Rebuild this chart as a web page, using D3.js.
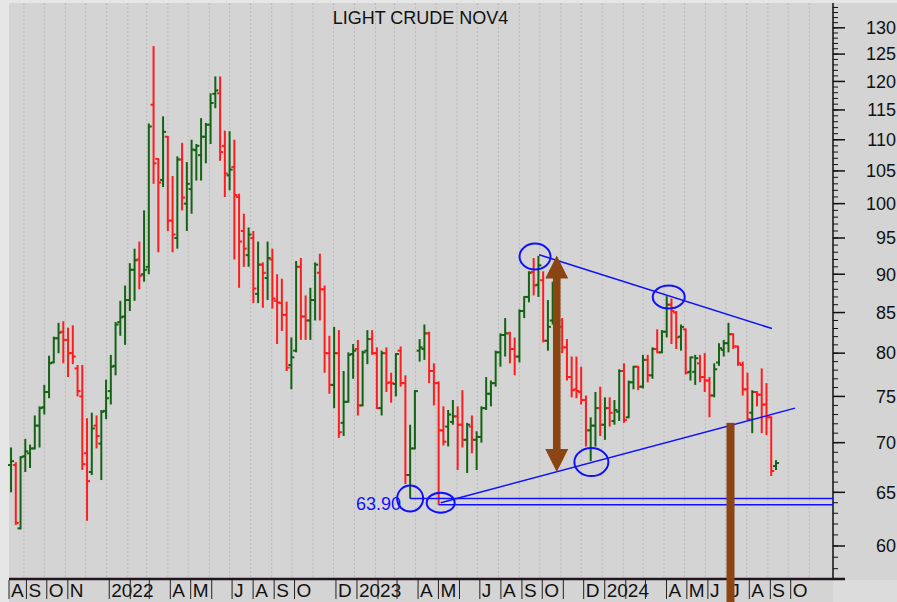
<!DOCTYPE html>
<html>
<head>
<meta charset="utf-8">
<script src="https://cdn.jsdelivr.net/npm/d3@7"></script>
<style>
  html, body { margin: 0; padding: 0; background: #e6e6e6; }
  svg { display: block; font-family: Arial, "Liberation Sans", sans-serif; }
</style>
</head>
<body>
<div id="vis"></div>
<script>
// weekly bars, first bar = week ending Fri 13 Aug 2021
var firstWeek = '2021-08-13';

var opens = [
  67.7, 67.7, 61.6, 68.6, 68.9, 69.4, 71.8, 73.8, 75.5, 78.9,
  81.8, 82.6, 81.6, 80.0, 78.2, 75.0, 68.9, 67.0, 71.8, 69.9,
  73.4, 75.6, 78.5, 83.8, 84.5, 86.6, 90.6, 92.0, 90.0, 91.0,
  115.9, 106.9, 103.6, 110.5, 97.5, 95.0, 106.8, 100.0, 102.2, 108.3,
  107.5, 110.5, 112.5, 117.8, 117.9, 109.0, 104.3, 105.6, 101.0, 96.0,
  92.6, 95.0, 87.4, 91.3, 89.5, 92.0, 86.5, 86.2, 84.7, 78.6,
  80.3, 91.0, 84.5, 84.0, 86.6, 90.2, 88.0, 80.0, 76.3, 80.0,
  72.1, 74.4, 79.9, 80.5, 74.0, 80.3, 81.7, 80.0, 73.7, 80.0,
  76.6, 76.4, 80.3, 76.5, 66.7, 69.4, 80.3, 80.5, 82.4, 77.9,
  76.5, 71.3, 71.7, 72.2, 72.8, 71.9, 70.3, 71.7, 70.3, 70.6,
  73.7, 75.3, 76.5, 80.1, 82.2, 82.4, 80.5, 79.6, 85.2, 87.0,
  90.3, 88.6, 89.2, 81.5, 84.0, 87.0, 83.2, 80.7, 77.2, 75.8,
  75.5, 74.6, 71.3, 71.8, 73.7, 71.9, 73.7, 72.3, 73.3, 77.9,
  72.7, 76.6, 78.4, 76.1, 79.2, 77.4, 80.5, 80.1, 82.6, 86.0,
  85.0, 82.0, 82.9, 77.8, 77.8, 78.8, 77.2, 76.8, 75.1, 78.9,
  80.4, 81.2, 82.3, 80.8, 78.6, 75.8, 73.2, 75.5, 75.2, 74.1,
  72.7, 67.6
];
var highs = [
  69.5, 68.0, 68.6, 70.4, 69.8, 72.9, 73.9, 76.3, 79.7, 82.0,
  83.7, 83.9, 83.1, 83.4, 78.6, 78.6, 72.6, 73.2, 72.9, 73.5,
  76.9, 79.8, 83.8, 86.5, 88.5, 91.5, 93.5, 94.5, 99.0, 112.7,
  126.5, 107.0, 113.9, 110.6, 104.2, 107.3, 109.5, 106.4, 110.0, 109.3,
  113.6, 112.8, 117.9, 120.9, 120.9, 111.5, 111.4, 110.0, 101.5, 98.5,
  96.5, 96.0, 94.5, 91.6, 94.5, 93.5, 90.0, 89.4, 86.4, 81.9,
  91.8, 92.2, 87.2, 88.2, 91.6, 92.8, 88.5, 82.1, 83.2, 82.8,
  77.9, 80.1, 81.1, 81.6, 80.3, 82.8, 82.8, 80.7, 80.3, 80.7,
  77.7, 80.0, 80.8, 77.4, 71.9, 75.7, 81.7, 83.5, 82.6, 78.8,
  76.7, 73.9, 73.5, 74.6, 73.9, 75.7, 72.1, 72.9, 71.2, 73.9,
  77.2, 76.8, 80.3, 82.4, 84.3, 82.6, 81.9, 85.4, 87.1, 90.4,
  92.2, 92.5, 90.4, 86.6, 89.0, 88.0, 84.3, 81.7, 79.6, 79.6,
  78.4, 75.1, 72.7, 75.5, 76.1, 74.9, 74.9, 74.6, 78.1, 78.8,
  76.8, 78.5, 78.5, 79.8, 79.8, 80.7, 82.9, 82.8, 87.1, 86.8,
  85.2, 83.5, 83.0, 79.6, 79.8, 79.8, 80.0, 77.2, 78.8, 81.2,
  81.6, 83.7, 82.4, 80.9, 79.0, 77.7, 75.7, 75.6, 78.2, 76.5,
  72.8, 68.2
];
var lows = [
  65.0, 61.9, 61.5, 67.0, 67.4, 69.3, 69.5, 73.0, 74.8, 78.8,
  80.0, 78.8, 77.2, 78.7, 75.0, 67.2, 62.3, 66.7, 69.4, 66.2,
  72.5, 74.1, 77.4, 82.1, 81.0, 85.2, 86.5, 88.0, 89.0, 90.0,
  103.0, 93.0, 102.5, 96.0, 93.0, 93.5, 99.0, 96.0, 98.5, 103.5,
  103.5, 106.2, 109.3, 115.3, 106.6, 101.0, 102.0, 92.0, 88.2, 91.0,
  91.0, 86.2, 86.2, 85.6, 86.6, 85.5, 81.1, 82.7, 77.9, 75.8,
  80.1, 81.6, 81.6, 81.6, 84.0, 84.0, 77.7, 75.3, 73.7, 70.5,
  70.7, 74.3, 77.0, 72.9, 73.9, 78.7, 79.8, 73.6, 72.9, 75.5,
  74.3, 75.0, 76.1, 65.8, 64.4, 69.3, 79.0, 79.2, 76.5, 74.0,
  63.8, 69.7, 69.6, 71.9, 67.2, 69.5, 66.9, 68.9, 67.2, 70.0,
  73.5, 73.9, 76.1, 78.4, 79.6, 78.8, 77.4, 78.9, 84.3, 86.3,
  87.2, 87.0, 81.3, 80.3, 83.5, 82.5, 80.0, 76.8, 74.9, 74.8,
  74.1, 69.6, 68.1, 69.6, 70.7, 70.3, 71.7, 71.9, 72.3, 72.1,
  72.6, 75.8, 75.7, 75.9, 76.6, 77.0, 80.0, 80.0, 81.9, 81.1,
  80.5, 80.3, 77.5, 76.8, 76.3, 76.6, 75.5, 72.7, 74.9, 78.5,
  79.6, 80.1, 80.5, 78.5, 75.1, 72.4, 71.0, 73.9, 71.0, 70.8,
  66.6, 67.2
];
var closes = [
  68.1, 62.1, 68.5, 69.1, 69.4, 71.8, 73.7, 75.5, 78.8, 81.8,
  82.5, 81.6, 80.0, 79.6, 75.6, 67.8, 66.1, 71.5, 70.7, 73.3,
  74.8, 78.4, 83.5, 84.4, 86.6, 90.6, 91.9, 89.8, 90.6, 112.2,
  106.2, 103.2, 111.3, 97.5, 95.5, 106.8, 100.9, 103.0, 108.4, 109.0,
  110.5, 112.5, 116.2, 118.4, 108.0, 104.6, 105.2, 101.3, 94.5, 93.5,
  95.5, 88.1, 91.3, 90.2, 92.2, 86.8, 86.3, 84.7, 78.3, 79.5,
  91.0, 84.5, 84.0, 86.6, 91.3, 88.0, 80.0, 76.3, 80.0, 71.1,
  74.4, 79.8, 80.3, 74.0, 80.1, 81.7, 80.0, 73.7, 80.0, 76.5,
  76.5, 79.9, 76.5, 66.7, 69.4, 75.6, 80.7, 82.4, 77.9, 76.5,
  71.3, 70.1, 73.0, 72.8, 71.9, 70.3, 71.9, 70.3, 70.6, 73.7,
  75.3, 76.5, 80.1, 82.2, 82.4, 80.5, 79.6, 85.2, 87.0, 90.2,
  88.5, 91.2, 81.5, 83.2, 87.5, 84.0, 80.7, 77.2, 75.7, 75.6,
  74.6, 71.3, 71.8, 73.7, 71.9, 73.7, 73.2, 73.5, 77.9, 72.4,
  76.6, 78.4, 76.1, 79.2, 77.4, 80.5, 80.1, 82.6, 86.0, 85.2,
  81.9, 83.2, 77.7, 79.5, 79.4, 77.2, 76.8, 75.1, 78.1, 80.6,
  81.2, 82.3, 80.8, 78.8, 75.8, 72.5, 75.5, 75.2, 74.1, 72.7,
  67.1, 67.9
];

// x axis months ('' = divider only)
var monthTicks = [
  '2021-08-01', '2021-09-01', '2021-10-01', '2021-11-01',
  '2022-01-01', '2022-02-01', '2022-03-01', '2022-04-01', '2022-05-01', '2022-06-01',
  '2022-07-01', '2022-08-01', '2022-09-01', '2022-10-01', '2022-12-01',
  '2023-01-01', '2023-02-01', '2023-03-01', '2023-04-01', '2023-05-01', '2023-06-01',
  '2023-07-01', '2023-08-01', '2023-09-01', '2023-10-01', '2023-11-01', '2023-12-01',
  '2024-01-01', '2024-02-01', '2024-03-01', '2024-04-01', '2024-05-01', '2024-06-01',
  '2024-07-01', '2024-08-01', '2024-09-01', '2024-10-01'
];
var monthLabels = [
  'A', 'S', 'O', 'N',
  '2022', '', '', 'A', 'M', '',
  'J', 'A', 'S', 'O', 'D',
  '2023', '', '', 'A', 'M', '',
  'J', 'A', 'S', 'O', '', 'D',
  '2024', '', '', 'A', 'M', 'J',
  'J', 'A', 'S', 'O'
];

var priceTicks = [60, 65, 70, 75, 80, 85, 90, 95, 100, 105, 110, 115, 120, 125, 130];

// drawn annotations, in (date, price)
var supportLevels = [['2023-03-24', 64.4], ['2023-05-05', 63.8]];
var trendLines = [
  [['2023-09-30', 92.65], ['2024-09-07', 83.0]],
  [['2023-05-08', 64.0], ['2024-10-11', 73.7]]
];
var circled = [
  ['2023-03-24', 64.4, 13, 13],
  ['2023-05-08', 64.0, 14, 10],
  ['2023-09-24', 92.4, 15.5, 13],
  ['2023-12-16', 68.0, 17, 14],
  ['2024-04-08', 87.0, 16, 11.5]
];
var lowLabel = ['2023-03-24', 63.9, '63.90'];
var rangeArrow = ['2023-10-26', 92.55, 67.0];
var targetBar = ['2024-07-08', 72.1];

var width = 897;
var height = 602;
var plotLeft = 9, plotTop = 3, plotRight = 833, plotBottom = 578;

var green = '#136313';
var red = '#ff1c1c';
var blue = '#1010ff';
var brown = '#8b4513';

var parse = d3.timeParse('%Y-%m-%d');

var x = d3.scaleTime()
  .domain([parse('2021-08-10'), parse('2024-12-06')])
  .range([plotLeft, plotRight]);

var y = d3.scaleLog()
  .domain([57.2, 134.9])
  .range([plotBottom, plotTop]);

var bars = opens.map(function (o, i) {
  return {
    date: d3.timeWeek.offset(parse(firstWeek), i),
    open: o, high: highs[i], low: lows[i], close: closes[i]
  };
});

var svg = d3.select('#vis').append('svg')
  .attr('width', width)
  .attr('height', height);

svg.append('rect')
  .attr('x', plotLeft).attr('y', plotTop)
  .attr('width', width - plotLeft).attr('height', height - plotTop)
  .attr('fill', '#d4d4d4');
svg.append('rect')
  .attr('x', plotRight).attr('y', plotBottom + 2)
  .attr('width', width - plotRight).attr('height', height - plotBottom)
  .attr('fill', '#dcdcdc');

// dotted month grid
var months = d3.timeMonth.range(parse('2021-09-01'), parse('2024-12-01'));
svg.append('g').selectAll('line')
  .data(months)
  .enter().append('line')
  .attr('x1', function (d) { return x(d); })
  .attr('x2', function (d) { return x(d); })
  .attr('y1', plotTop)
  .attr('y2', plotBottom)
  .attr('stroke', '#bababa')
  .attr('stroke-dasharray', '2,2');

svg.append('text')
  .attr('x', 420.5)
  .attr('y', 24)
  .attr('text-anchor', 'middle')
  .attr('font-size', 18)
  .attr('fill', '#111')
  .text('LIGHT CRUDE NOV4');

// OHLC bars
var bar = svg.append('g').selectAll('g')
  .data(bars)
  .enter().append('g')
  .attr('stroke', function (d) { return d.close >= d.open ? green : red; })
  .attr('stroke-width', 2);

bar.append('line')
  .attr('x1', function (d) { return x(d.date); })
  .attr('x2', function (d) { return x(d.date); })
  .attr('y1', function (d) { return y(d.high); })
  .attr('y2', function (d) { return y(d.low); });
bar.append('line')
  .attr('x1', function (d) { return x(d.date) - 3; })
  .attr('x2', function (d) { return x(d.date); })
  .attr('y1', function (d) { return y(d.open); })
  .attr('y2', function (d) { return y(d.open); });
bar.append('line')
  .attr('x1', function (d) { return x(d.date); })
  .attr('x2', function (d) { return x(d.date) + 3; })
  .attr('y1', function (d) { return y(d.close); })
  .attr('y2', function (d) { return y(d.close); });

// y axis on the right, 1 unit minor ticks
var yAxis = svg.append('g');
yAxis.append('line')
  .attr('x1', plotRight).attr('x2', plotRight)
  .attr('y1', plotTop).attr('y2', plotBottom)
  .attr('stroke', '#111').attr('stroke-width', 1.5);
yAxis.selectAll('.minor')
  .data(d3.range(58, 135))
  .enter().append('line')
  .attr('x1', plotRight).attr('x2', plotRight + 5)
  .attr('y1', function (d) { return y(d); })
  .attr('y2', function (d) { return y(d); })
  .attr('stroke', '#111');
yAxis.selectAll('.major')
  .data(priceTicks)
  .enter().append('line')
  .attr('x1', plotRight).attr('x2', plotRight + 12)
  .attr('y1', function (d) { return y(d); })
  .attr('y2', function (d) { return y(d); })
  .attr('stroke', '#111').attr('stroke-width', 1.5);
yAxis.selectAll('text')
  .data(priceTicks)
  .enter().append('text')
  .attr('x', 896)
  .attr('y', function (d) { return y(d); })
  .attr('dy', '0.35em')
  .attr('text-anchor', 'end')
  .attr('font-size', 18)
  .attr('fill', '#111')
  .text(function (d) { return d; });

// x axis band
var xAxis = svg.append('g');
xAxis.append('line')
  .attr('x1', plotLeft).attr('x2', plotRight + 12)
  .attr('y1', plotBottom + 1).attr('y2', plotBottom + 1)
  .attr('stroke', '#24141f').attr('stroke-width', 2.5);
var tick = xAxis.selectAll('g')
  .data(monthTicks.map(function (m, i) { return { date: parse(m), label: monthLabels[i] }; }))
  .enter().append('g')
  .attr('transform', function (d) {
    return 'translate(' + Math.max(plotLeft, x(d.date) + 2.5) + ',0)';
  });
tick.append('line')
  .attr('y1', plotBottom + 2).attr('y2', height - 3)
  .attr('stroke', '#222');
tick.append('text')
  .attr('x', 2)
  .attr('y', 597)
  .attr('font-size', 19)
  .attr('fill', '#111')
  .text(function (d) { return d.label; });

// annotations
var notes = svg.append('g')
  .attr('fill', 'none')
  .attr('stroke', blue);

notes.selectAll('.level')
  .data(supportLevels)
  .enter().append('line')
  .attr('x1', function (d) { return x(parse(d[0])); })
  .attr('x2', plotRight)
  .attr('y1', function (d) { return y(d[1]); })
  .attr('y2', function (d) { return y(d[1]); })
  .attr('stroke-width', 1.5);

notes.selectAll('.trend')
  .data(trendLines)
  .enter().append('line')
  .attr('x1', function (d) { return x(parse(d[0][0])); })
  .attr('y1', function (d) { return y(d[0][1]); })
  .attr('x2', function (d) { return x(parse(d[1][0])); })
  .attr('y2', function (d) { return y(d[1][1]); })
  .attr('stroke-width', 1.5);

svg.append('text')
  .attr('x', x(parse(lowLabel[0])) - 9)
  .attr('y', y(lowLabel[1]))
  .attr('dy', '0.36em')
  .attr('text-anchor', 'end')
  .attr('font-size', 18)
  .attr('fill', blue)
  .text(lowLabel[2]);

svg.append('g').selectAll('ellipse')
  .data(circled)
  .enter().append('ellipse')
  .attr('cx', function (d) { return x(parse(d[0])); })
  .attr('cy', function (d) { return y(d[1]); })
  .attr('rx', function (d) { return d[2]; })
  .attr('ry', function (d) { return d[3]; })
  .attr('fill', 'none')
  .attr('stroke', blue)
  .attr('stroke-width', 2);

// brown double arrow
var ax = x(parse(rangeArrow[0]));
var aTop = y(rangeArrow[1]);
var aBot = y(rangeArrow[2]);
var shaft = 3.8, head = 11.5, headLen = 23;
svg.append('path')
  .attr('d', 'M' + ax + ',' + aTop +
    'L' + (ax + head) + ',' + (aTop + headLen) +
    'L' + (ax + shaft) + ',' + (aTop + headLen) +
    'L' + (ax + shaft) + ',' + (aBot - headLen) +
    'L' + (ax + head) + ',' + (aBot - headLen) +
    'L' + ax + ',' + aBot +
    'L' + (ax - head) + ',' + (aBot - headLen) +
    'L' + (ax - shaft) + ',' + (aBot - headLen) +
    'L' + (ax - shaft) + ',' + (aTop + headLen) +
    'L' + (ax - head) + ',' + (aTop + headLen) + 'Z')
  .attr('fill', brown);

svg.append('rect')
  .attr('x', x(parse(targetBar[0])) - 4)
  .attr('y', y(targetBar[1]))
  .attr('width', 8)
  .attr('height', height - y(targetBar[1]))
  .attr('fill', brown);
</script>
</body>
</html>
